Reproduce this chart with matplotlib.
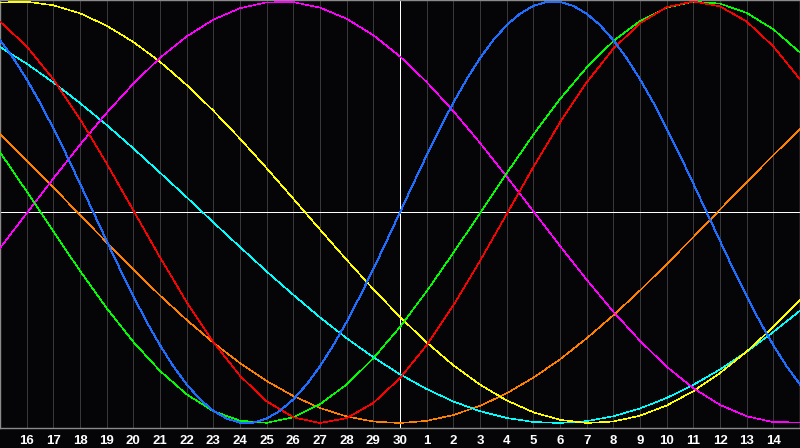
"""Biorhythm-style cycle chart: seven sine cycles over a 30 day window."""

import matplotlib

matplotlib.use("Agg")
import matplotlib.pyplot as plt

# day offsets from the left edge of the window (0 .. 30)
day_offsets = list(range(31))
half_day_offsets = [n / 2 for n in range(61)]
tick_days = list(range(1, 30))
tick_labels = [str(n) for n in range(16, 31)] + [str(n) for n in range(1, 15)]
today = 15  # the "30" column

# physical read every half day (it turns fastest)
physical = [0.817, 0.731, 0.631, 0.520, 0.398, 0.270, 0.136, 0.0, -0.136, -0.270,
            -0.398, -0.520, -0.631, -0.731, -0.817, -0.888, -0.942, -0.979, -0.998, -0.998,
            -0.979, -0.942, -0.888, -0.817, -0.731, -0.631, -0.520, -0.398, -0.270, -0.136,
            0.0, 0.136, 0.270, 0.398, 0.520, 0.631, 0.731, 0.817, 0.888, 0.942,
            0.979, 0.998, 0.998, 0.979, 0.942, 0.888, 0.817, 0.731, 0.631, 0.520,
            0.398, 0.270, 0.136, 0.0, -0.136, -0.270, -0.398, -0.520, -0.631, -0.731, -0.817]
emotional = [0.905, 0.787, 0.631, 0.442, 0.231, 0.009, -0.214, -0.426, -0.616, -0.776,
             -0.897, -0.973, -1.0, -0.977, -0.905, -0.787, -0.631, -0.442, -0.231, -0.009,
             0.214, 0.426, 0.616, 0.776, 0.897, 0.973, 1.0, 0.977, 0.905, 0.787, 0.631]
intellectual = [0.285, 0.099, -0.091, -0.278, -0.455, -0.615, -0.753, -0.864, -0.944, -0.989,
                -0.999, -0.973, -0.911, -0.817, -0.693, -0.544, -0.375, -0.193, -0.004, 0.185,
                0.368, 0.537, 0.687, 0.812, 0.908, 0.971, 0.999, 0.990, 0.946, 0.868, 0.758]
intuitive = [-0.170, -0.005, 0.160, 0.320, 0.472, 0.610, 0.733, 0.834, 0.914, 0.968,
             0.996, 0.997, 0.971, 0.918, 0.840, 0.739, 0.618, 0.480, 0.329, 0.169,
             0.005, -0.160, -0.320, -0.472, -0.610, -0.733, -0.835, -0.914, -0.968, -0.996, -0.997]
aesthetic = [0.995, 0.999, 0.982, 0.944, 0.885, 0.808, 0.714, 0.604, 0.482, 0.349,
             0.209, 0.064, -0.082, -0.226, -0.365, -0.497, -0.618, -0.726, -0.818, -0.893,
             -0.949, -0.985, -1.0, -0.993, -0.965, -0.917, -0.849, -0.763, -0.661, -0.544, -0.416]
awareness = [0.371, 0.246, 0.118, -0.013, -0.143, -0.271, -0.395, -0.511, -0.619, -0.716,
             -0.801, -0.872, -0.929, -0.969, -0.993, -1.0, -0.990, -0.962, -0.919, -0.859,
             -0.785, -0.698, -0.598, -0.489, -0.371, -0.246, -0.118, 0.013, 0.143, 0.271, 0.395]
spiritual = [0.784, 0.705, 0.616, 0.518, 0.414, 0.303, 0.188, 0.071, -0.048, -0.165,
             -0.281, -0.392, -0.499, -0.598, -0.688, -0.769, -0.839, -0.898, -0.944, -0.976,
             -0.995, -1.0, -0.991, -0.968, -0.931, -0.881, -0.819, -0.746, -0.662, -0.568, -0.467]

series = [
    (day_offsets, awareness, "#ff7f00", 0.4),
    (day_offsets, spiritual, "#00ffff", 0.4),
    (day_offsets, aesthetic, "#ffff00", 0.4),
    (day_offsets, intuitive, "#ff00ff", 0.4),
    (day_offsets, intellectual, "#00ff00", 0.4),
    (day_offsets, emotional, "#ff0000", 0.4),
    (half_day_offsets, physical, "#1e6eff", 0.65),
]

BG = "#050508"

fig = plt.figure(figsize=(8, 4.48), dpi=100, facecolor=BG)
ax = fig.add_axes([0, 20 / 448, 1, 428 / 448], facecolor=BG)

for d in tick_days:
    if d != today:
        ax.axvline(d, color="#38383b", lw=0.75, zorder=1)
ax.axvline(today, color="white", lw=0.6, zorder=2, antialiased=False)
ax.axhline(0, color="white", lw=0.6, zorder=2, antialiased=False)

for xs, values, color, lw in series:
    ax.plot(xs, values, color=color, lw=lw, zorder=3, antialiased=False)

ax.set_xlim(0, 30)
ax.set_ylim(-1.0237, 1.0071)
ax.set_yticks([])
ax.set_xticks(tick_days)
ax.set_xticklabels(tick_labels, color="white", fontsize=9.5, fontweight="bold",
                   family="Liberation Sans")
ax.tick_params(axis="x", length=0, pad=5)
for spine in ax.spines.values():
    spine.set_color("#8a8a8a")
    spine.set_linewidth(1.0)

fig.savefig("out.png", dpi=100, facecolor=BG)
plt.close(fig)
